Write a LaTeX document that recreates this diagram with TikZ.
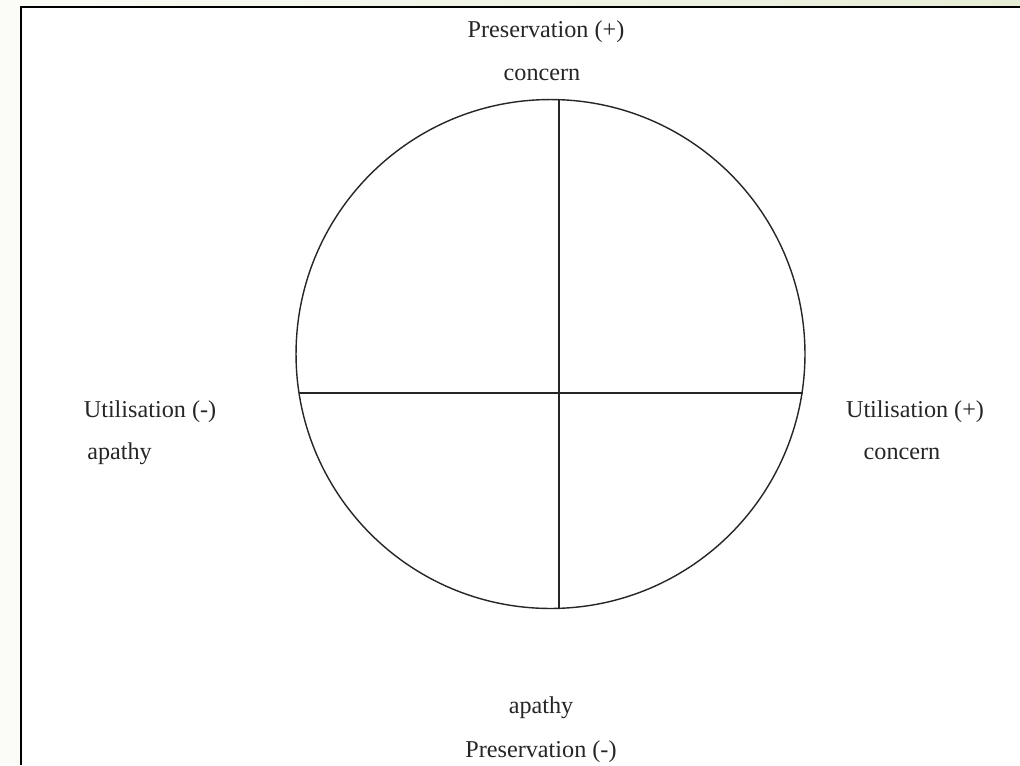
\documentclass[tikz,border=0pt]{standalone}
\usepackage{fontspec}
\setmainfont{Liberation Serif}
\usetikzlibrary{positioning, calc}
\usepackage{xcolor}
\definecolor{pageTint}{HTML}{FBFCF7}
\definecolor{stripTint}{HTML}{E6EDD6}
\definecolor{inkGray}{HTML}{262626}

\begin{document}
\begin{tikzpicture}[
    x=0.025cm, y=-0.025cm,
    frameline/.style={draw=black, line width=2.1pt},
    ringline/.style={draw=inkGray, line width=1pt},
    axisline/.style={draw=inkGray, line width=0.8pt},
    axislabel/.style={anchor=base, inner sep=0pt, text=inkGray,
        font=\fontsize{17.2}{20.6}\selectfont},
]

% ============================================
% Page and frame
% ============================================
\useasboundingbox (0,0) rectangle (1020,765);
\fill[pageTint] (0,0) rectangle (1020,765);
\shade[left color=pageTint, right color=stripTint] (0,0) rectangle (1020,7);
\fill[white] (21,7) rectangle (1020,765);
\draw[frameline] (21,765) -- (21,7) -- (1020,7);

% ============================================
% Circle and axes
% ============================================
\coordinate (centre) at (550.5,354);
\draw[ringline] (centre) circle [radius=6.36cm];

\coordinate (ptop) at (559,100);
\coordinate (pbot) at (559,608);
\coordinate (uleft) at (299,393);
\coordinate (uright) at (803,393);

\draw[axisline] (ptop) -- (pbot);
\draw[axisline] (uleft) -- (uright);

% ============================================
% Labels
% ============================================
\node[axislabel] (presplus) at (546,37) {Preservation (+)};
\node[axislabel] (presplusc) at (542,80) {concern};

\node[axislabel] (utilminus) at (150,417) {Utilisation (-)};
\node[axislabel] (utilminusa) at (119.5,459) {apathy};

\node[axislabel] (utilplus) at (915,417) {Utilisation (+)};
\node[axislabel] (utilplusc) at (902,459) {concern};

\node[axislabel] (presminusa) at (541,713) {apathy};
\node[axislabel] (presminus) at (541,757) {Preservation (-)};

\end{tikzpicture}
\end{document}
